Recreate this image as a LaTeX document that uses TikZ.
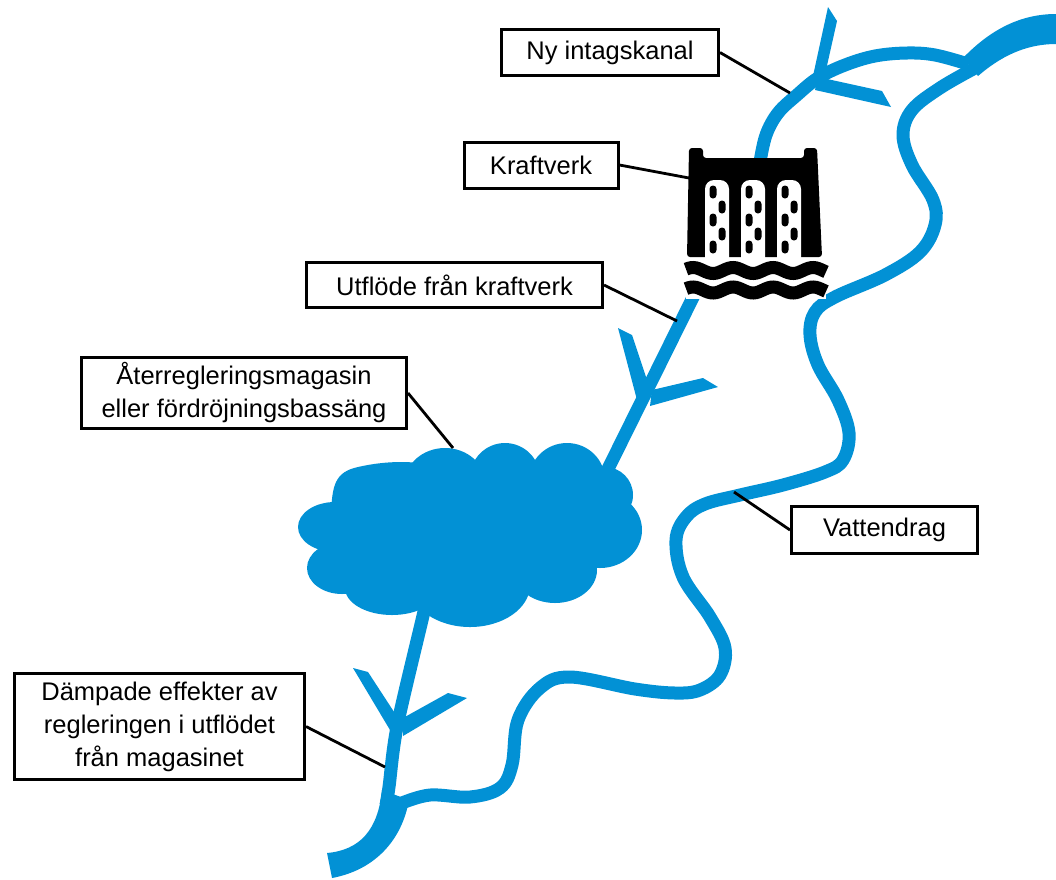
\documentclass[tikz,border=0pt]{standalone}
\usepackage{fontspec}
\setmainfont{Liberation Sans}
\definecolor{riverblue}{RGB}{2,145,213}

\begin{document}
\begin{tikzpicture}[
      x=1pt, y=-1pt,
      myriver/.style={
         draw=riverblue,
         line width=13pt},
      mytwig/.style={
         fill=riverblue},
      mybox/.style={
         rectangle,
         draw=black,
         fill=white,
         line width=3pt,
         align=center,
         inner sep=0pt,
         font=\fontsize{25.5}{33}\selectfont},
      myline/.style={line width=2.8pt}
      ]
      \useasboundingbox (0,0) rectangle (1056,879);

      % watercourse
      \draw[myriver] plot[smooth, tension=0.6] coordinates {
         (975,68) (940,88) (912,110) (903,135) (912,165) (933,200) (935,225)
         (920,252) (885,275) (835,297) (815,312) (810,335) (818,365) (838,400)
         (849,433) (843,460) (825,472) (783,485) (740,495) (705,504) (686,517)
         (676,540) (683,577) (710,617) (725,648) (720,675) (700,690) (675,693)
         (635,689) (570,677) (540,688) (518,720) (512,765) (500,788) (470,797)
         (430,795) (402,803)};
      % intake channel, through the station down to the basin
      \draw[myriver] plot[smooth, tension=0.6] coordinates {
         (968,64) (935,55) (907,53) (875,56) (845,65) (818,78) (797,95)
         (778,113) (766,135) (760,162)} -- (605,475);
      \draw[myriver] plot[smooth] coordinates {
         (428,595) (422,620) (397,727) (389,787) (386,805)};

      % side streams
      \fill[mytwig] (813,76) -- (828,7) -- (837,21) -- (826,70) -- cycle;
      \fill[mytwig] (818,77) -- (882,91) -- (891,107) -- (815,90) -- cycle;
      \fill[mytwig] (637,400) -- (618,328) -- (632,335) -- (649,386) -- cycle;
      \fill[mytwig] (652,390) -- (703,378) -- (718,387) -- (650,406) -- cycle;
      \fill[mytwig] (390,730) -- (353,668) -- (368,672) -- (398,718) -- cycle;
      \fill[mytwig] (403,718) -- (448,693) -- (467,698) -- (403,736) -- cycle;

      % wide ends
      \fill[mytwig] (1056,14) .. controls (1020,14) and (990,30) .. (963,58)
         -- (978,76) .. controls (1000,57) and (1025,44) .. (1056,44) -- cycle;
      \fill[mytwig] (382,790) .. controls (378,830) and (360,850) .. (327,853)
         -- (332,878) .. controls (375,870) and (402,840) .. (409,800) -- cycle;

      % basin
      \foreach \cx/\cy/\rx/\ry in {335/527/37/25, 342/568/35/26, 392/588/47/27,
         470/585/60/42, 555/570/42/33, 600/530/42/38, 605/495/28/28,
         567/480/38/37, 505/478/35/35, 445/483/40/35, 470/530/140/60}
        \fill[riverblue] (\cx,\cy) ellipse [x radius=\rx, y radius=\ry];
      \fill[riverblue] (331,515) .. controls (332,485) and (335,472) .. (358,467)
         .. controls (380,462) and (400,461) .. (420,463) -- (420,520) -- cycle;

      % power station
      \fill[white] (686,158) rectangle (826,299);
      \fill[rounded corners=3pt] (687,257) -- (689,148) -- (703,148) -- (703,158)
         -- (804,158) -- (804,148) -- (817,148) -- (822,257) -- cycle;
      \foreach \cx in {705,741,777} {
        \fill[white, rounded corners=9pt] (\cx,262) -- (\cx,180) -- (\cx+24,180) -- (\cx+24,262);
        \foreach \dx/\py in {8/192, 17/207, 8/220, 17/234, 8/247}
          \fill[rounded corners=3.4pt] (\cx+\dx-3.5,\py-6.5) rectangle (\cx+\dx+3.5,\py+6.5);
      }
      \foreach \wy in {270.5,290}
        \draw[line width=13pt] plot[domain=686:826, samples=57] (\x,{\wy-3*cos((\x-693)*9)});

      % where the labels point
      \coordinate (p1) at (790,93);
      \coordinate (p2) at (689,178);
      \coordinate (p3) at (677,321);
      \coordinate (p4) at (453,448);
      \coordinate (p5) at (734,492);
      \coordinate (p6) at (385,767);

      \node[mybox, minimum width=217pt, minimum height=46pt] (b1) at (610,52.5) {Ny intagskanal};
      \node[mybox, minimum width=154pt, minimum height=46pt] (b2) at (541,165) {Kraftverk};
      \node[mybox, minimum width=296pt, minimum height=45pt] (b3) at (454.5,285) {Utflöde från kraftverk};
      \node[mybox, minimum width=325pt, minimum height=71pt] (b4) at (244,393) {Återregleringsmagasin\\eller fördröjningsbassäng};
      \node[mybox, minimum width=186pt, minimum height=47pt] (b5) at (884.5,530) {Vattendrag};
      \node[mybox, minimum width=290pt, minimum height=106pt] (b6) at (159.5,726.5) {Dämpade effekter av\\regleringen i utflödet\\från magasinet};

      \foreach \i/\j in {b1.east/p1, b2.east/p2, b3.east/p3, b4.east/p4, b5.west/p5, b6.east/p6}
        \draw[myline] (\i) -- (\j);
\end{tikzpicture}
\end{document}
